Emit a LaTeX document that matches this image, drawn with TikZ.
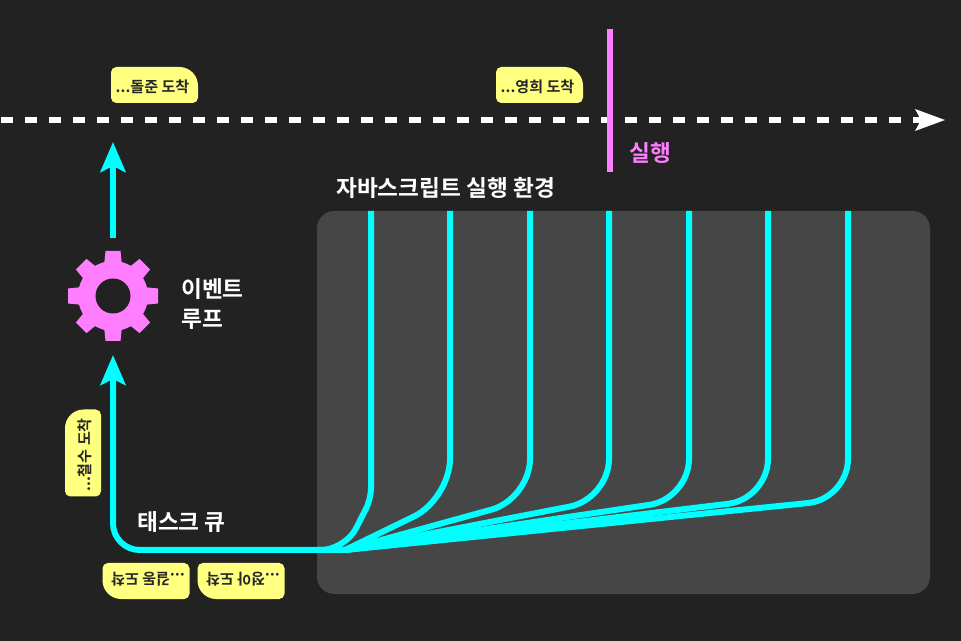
\documentclass[tikz,border=0pt]{standalone}
\usepackage{fontspec}
\setmainfont{Noto Sans CJK KR}[BoldFont={* Bold}]
\usetikzlibrary{arrows.meta}
\definecolor{bgdark}{RGB}{34,34,34}
\definecolor{boxgray}{RGB}{70,70,70}
\definecolor{flowcyan}{RGB}{0,255,255}
\definecolor{gearpink}{RGB}{255,125,255}
\definecolor{notebg}{RGB}{255,255,128}
\tikzset{
  flow/.style={line width=4.5pt, flowcyan},
  flowarrow/.style={flow, -{Stealth[length=22.5pt, width=18.75pt, inset=4.5pt]}},
  heading/.style={text=white, font=\bfseries\fontsize{17pt}{23pt}\selectfont, align=left, inner sep=0pt},
  notetext/.style={text=black!85, font=\bfseries\fontsize{11.3pt}{13pt}\selectfont, inner sep=0pt},
  pics/note/.style={code={
    \fill[notebg, rounded corners=4pt] (-43.5,18) -- (-43.5,-18) [rounded corners=14pt] -- (43.5,-18) [rounded corners=4pt] -- (43.5,18) -- cycle;
    \node[notetext, transform shape] (#1) at (-2,1.5) {...#1 도착};
  }},
}
\begin{document}
\begin{tikzpicture}[x=0.75pt, y=-0.75pt]
  \useasboundingbox (0,0) rectangle (961,641);
  \fill[bgdark] (0,0) rectangle (961,641);
  \fill[boxgray, rounded corners=13pt] (317,211) rectangle (930,594);
  % time line
  \coordinate (linestart) at (0,120);
  \coordinate (lineend) at (945,120);
  \draw[white, line width=4.5pt, dash pattern=on 9pt off 9pt, dash phase=17.25pt] (linestart) -- (925,120);
  \fill[white] (lineend) -- (915,109) -- (921,120) -- (915,131) -- cycle;
  \coordinate (runtop) at (610,29);
  \coordinate (runbottom) at (610,172);
  \draw[gearpink, line width=4.5pt] (runtop) -- (runbottom);
  % notes
  \path (154.5,85) pic {note=돌준};
  \path (539.5,85) pic {note=영희};
  \path (83,453) pic[rotate=90] {note=철수};
  \path (146,581) pic[rotate=180] {note=길동};
  \path (241,581) pic[rotate=180] {note=정아};
  % labels
  \node[heading, text=gearpink, anchor=west] (runlabel) at (629,153) {실행};
  \node[heading, anchor=west] (envlabel) at (336,188) {자바스크립트 실행 환경};
  \node[heading, anchor=west] (looplabel) at (181,304) {이벤트\\루프};
  \node[heading, anchor=west] (queuelabel) at (137,522) {태스크 큐};
  % gear
  \coordinate (gear) at (113,296);
  \fill[gearpink] (gear) circle (35);
  \foreach \a in {0,45,...,315}
    \fill[gearpink, shift={(gear)}, rotate=\a] (-9,-30) -- (-7.5,-45) -- (7.5,-45) -- (9,-30) -- cycle;
  \fill[bgdark] (gear) circle (17.5);
  % queue to loop
  \coordinate (queueend) at (113,355);
  \coordinate (fork) at (345,550);
  \draw[flowarrow, rounded corners=20pt] (fork) -- (113,550) -- (queueend);
  \coordinate (looptop) at (113,238);
  \coordinate (arrivetop) at (113,142);
  \draw[flowarrow] (looptop) -- (arrivetop);
  % branches
  \draw[flow, rounded corners=8pt] (371,211) -- (371,499) [rounded corners=18pt] -- (fork) -- (318,550);
  \foreach \x in {450,530,609,689,768,848}
    \draw[flow, rounded corners=30pt] (\x,211) -- (\x,499) -- (fork);
\end{tikzpicture}
\end{document}
